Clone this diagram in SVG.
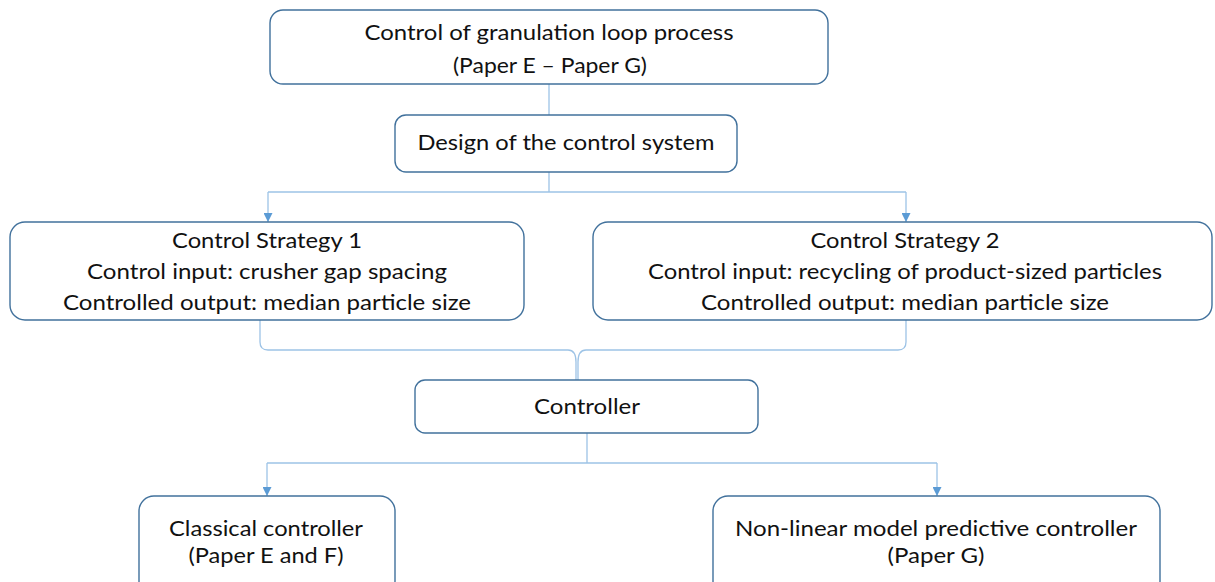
<svg xmlns="http://www.w3.org/2000/svg" width="1215" height="582" viewBox="0 0 1215 582">
  <style>
    .box { fill: #ffffff; stroke: #41719c; stroke-width: 1.4; }
    .lbl { font-family: Lato, "Liberation Sans", sans-serif; font-size: 21px; fill: #111111; text-anchor: middle; }
    .wire { fill: none; stroke: #9dc3e6; stroke-width: 1.3; }
    .arrow { fill: none; stroke: #9dc3e6; stroke-width: 1.3; marker-end: url(#tip); }
  </style>
  <defs>
    <marker id="tip" viewBox="0 0 10 10" refX="10" refY="5" markerUnits="userSpaceOnUse" markerWidth="9" markerHeight="9" orient="auto">
      <path d="M0,0 L10,5 L0,10 z" fill="#5b9bd5"/>
    </marker>
  </defs>
  <rect width="1215" height="582" fill="#ffffff"/>

  <g id="connectors">
    <path class="wire" d="M549,84 V115"/>
    <path class="wire" d="M549,172 V192 M268,192 H906"/>
    <path class="arrow" d="M268,192 V222"/>
    <path class="arrow" d="M906,192 V222"/>
    <path class="wire" d="M260,320 V342 Q260,350 268,350 H568 Q576,350 576,362 V380"/>
    <path class="wire" d="M906,320 V342 Q906,350 898,350 H586 Q578,350 578,362 V380"/>
    <path class="wire" d="M587,433 V463 M267,463 H937"/>
    <path class="arrow" d="M267,463 V496"/>
    <path class="arrow" d="M937,463 V496"/>
  </g>

  <g id="n-loop">
    <rect class="box" x="270" y="10" width="558" height="74" rx="13"/>
    <text class="lbl" x="549" y="40" textLength="369" lengthAdjust="spacingAndGlyphs">Control of granulation loop process</text>
    <text class="lbl" x="550" y="73" textLength="194" lengthAdjust="spacingAndGlyphs">(Paper E – Paper G)</text>
  </g>

  <g id="n-design">
    <rect class="box" x="395" y="115" width="342" height="57" rx="11"/>
    <text class="lbl" x="566" y="150" textLength="297" lengthAdjust="spacingAndGlyphs">Design of the control system</text>
  </g>

  <g id="n-strategy1">
    <rect class="box" x="10" y="222" width="514" height="98" rx="15"/>
    <text class="lbl" x="267" y="248" textLength="190" lengthAdjust="spacingAndGlyphs">Control Strategy 1</text>
    <text class="lbl" x="267" y="279" textLength="360" lengthAdjust="spacingAndGlyphs">Control input: crusher gap spacing</text>
    <text class="lbl" x="267" y="310" textLength="408" lengthAdjust="spacingAndGlyphs">Controlled output: median particle size</text>
  </g>

  <g id="n-strategy2">
    <rect class="box" x="593" y="222" width="619" height="98" rx="15"/>
    <text class="lbl" x="905" y="248" textLength="189" lengthAdjust="spacingAndGlyphs">Control Strategy 2</text>
    <text class="lbl" x="905" y="279" textLength="514" lengthAdjust="spacingAndGlyphs">Control input: recycling of product-sized particles</text>
    <text class="lbl" x="905" y="310" textLength="408" lengthAdjust="spacingAndGlyphs">Controlled output: median particle size</text>
  </g>

  <g id="n-controller">
    <rect class="box" x="415" y="380" width="343" height="53" rx="10"/>
    <text class="lbl" x="587" y="414" textLength="106" lengthAdjust="spacingAndGlyphs">Controller</text>
  </g>

  <g id="n-classical">
    <rect class="box" x="139" y="496" width="256" height="100" rx="15"/>
    <text class="lbl" x="266" y="536" textLength="194" lengthAdjust="spacingAndGlyphs">Classical controller</text>
    <text class="lbl" x="266" y="563" textLength="155" lengthAdjust="spacingAndGlyphs">(Paper E and F)</text>
  </g>

  <g id="n-nmpc">
    <rect class="box" x="713" y="496" width="447" height="100" rx="15"/>
    <text class="lbl" x="936" y="536" textLength="402" lengthAdjust="spacingAndGlyphs">Non-linear model predictive controller</text>
    <text class="lbl" x="936" y="563" textLength="97" lengthAdjust="spacingAndGlyphs">(Paper G)</text>
  </g>
</svg>
